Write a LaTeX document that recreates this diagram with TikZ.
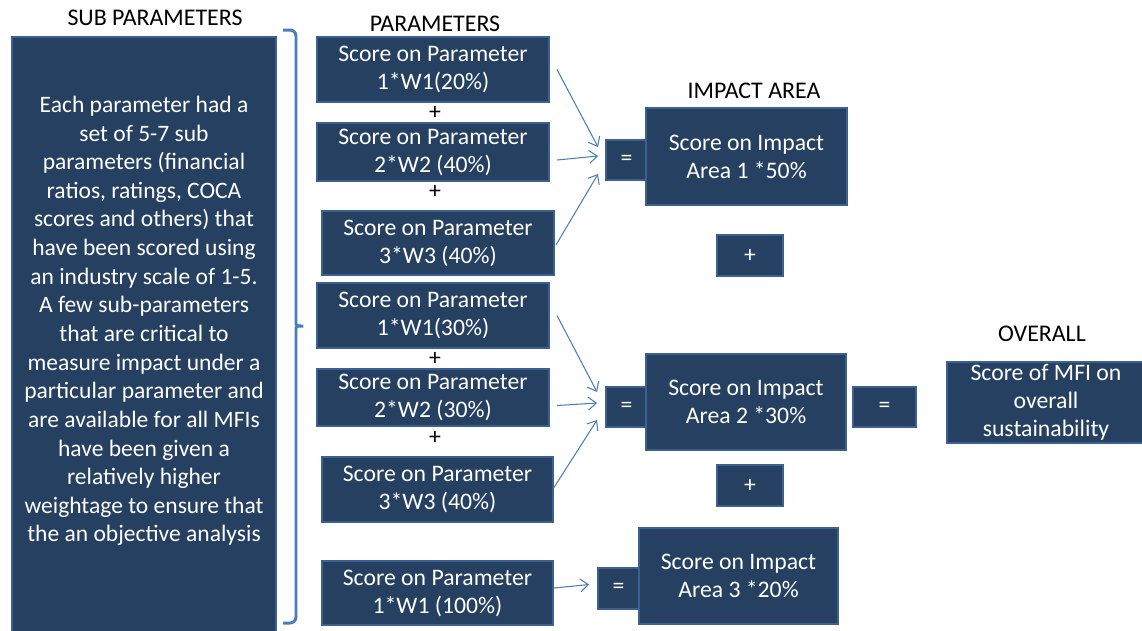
\documentclass[tikz,border=0pt]{standalone}
\usepackage{fontspec}
\setmainfont{Carlito}
\usetikzlibrary{arrows.meta,calc}

\definecolor{boxfill}{HTML}{254061}
\definecolor{boxline}{HTML}{3B6092}
\definecolor{linkblue}{HTML}{4A7EBB}

\tikzset{
  box/.style={draw=boxline, line width=1.1pt, fill=boxfill, text=white,
    align=center, inner sep=0pt, font=\fontsize{13.5}{15.9}\selectfont},
  sz/.style 2 args={minimum width=#1*0.02cm, minimum height=#2*0.02cm},
  head/.style={font=\fontsize{13.6}{15}\selectfont},
  plus/.style={font=\fontsize{13.5}{14}\selectfont, inner sep=0pt},
  link/.style={draw=linkblue, line width=0.6pt,
    -{Straight Barb[length=1.6mm,width=2.6mm]}}
}

\begin{document}
\begin{tikzpicture}[x=0.02cm, y=-0.02cm]
\path[use as bounding box, clip] (0,0) rectangle (1142,630);

\node[head] (subhead) at (155,18) {SUB PARAMETERS};
\node[head] (parhead) at (435,24) {PARAMETERS};
\node[head] (imphead) at (754,91) {IMPACT AREA};
\node[head] (allhead) at (1042,334) {OVERALL};

\node[box, sz={264}{613}] (sub) at (144,343.5) {};
\node[text=white, align=center, inner sep=0pt,
  font=\fontsize{13.4}{16.3}\selectfont] (subtext) at (144,321)
  {Each parameter had a\\ set of 5-7 sub\\ parameters (financial\\
   ratios, ratings, COCA\\ scores and others) that\\ have been scored using\\
   an industry scale of 1-5.\\ A few sub-parameters\\ that are critical to\\
   measure impact under a\\ particular parameter and\\ are available for all MFIs\\
   have been given a\\ relatively higher\\ weightage to ensure that\\
   the an objective analysis};
\draw[linkblue, line width=1.7pt, rounded corners=1.2mm]
  (283,30) -- (296,30) -- (296,318)
  .. controls (296,326) and (300,326) .. (307,326)
  .. controls (300,326) and (296,326) .. (296,334)
  -- (296,623) -- (283,623);

\node[box, sz={232}{65}] (p1) at (433,69.5) {Score on Parameter\\ 1*W1(20\%)};
\node[plus] (pl1) at (435,113) {+};
\node[box, sz={232}{58}] (p2) at (433,152) {Score on Parameter\\ 2*W2 (40\%)};
\node[plus] (pl2) at (435,192) {+};
\node[box, sz={232}{64}] (p3) at (438,243) {Score on Parameter\\ 3*W3 (40\%)};
\node[box, sz={232}{65}] (p4) at (433,315.5) {Score on Parameter\\ 1*W1(30\%)};
\node[plus] (pl3) at (435,359) {+};
\node[box, sz={232}{57}] (p5) at (433,397.5) {Score on Parameter\\ 2*W2 (30\%)};
\node[plus] (pl4) at (435,438) {+};
\node[box, sz={231}{65}] (p6) at (437.5,489.5) {Score on Parameter\\ 3*W3 (40\%)};
\node[box, sz={231}{64}] (p7) at (437.5,593) {Score on Parameter\\ 1*W1 (100\%)};

\node[box, sz={41}{40}] (e1) at (626.5,160) {=};
\node[box, sz={201}{97}] (i1) at (746.5,156.5) {Score on Impact\\ Area 1 *50\%};
\node[box, sz={66}{41}] (a1) at (750,255.5) {+};
\node[box, sz={41}{40}] (e2) at (626.5,407) {=};
\node[box, sz={200}{96}] (i2) at (746,402) {Score on Impact\\ Area 2 *30\%};
\node[box, sz={63}{40}] (e3) at (884.5,407) {=};
\node[box, sz={198}{81}] (all) at (1046,402.5) {Score of MFI on\\ overall\\ sustainability};
\node[box, sz={66}{41}] (a2) at (750,485.5) {+};
\node[box, sz={41}{41}] (e4) at (618.5,588.5) {=};
\node[box, sz={199}{96}] (i3) at (738.5,576) {Score on Impact\\ Area 3 *20\%};

\draw[link] ($(p1.east)+(7,0)$) -- ($(e1.west)+(-7,-13)$);
\draw[link] ($(p2.east)+(7,8)$) -- ($(e1.west)+(-7,-4)$);
\draw[link] ($(p3.east)+(1,2)$) -- ($(e1.west)+(-7,14)$);
\draw[link] ($(p4.east)+(7,0)$) -- ($(e2.west)+(-8,-15)$);
\draw[link] ($(p5.east)+(7,8)$) -- ($(e2.west)+(-8,-4)$);
\draw[link] ($(p6.east)+(0,-2)$) -- ($(e2.west)+(-8,13)$);
\draw[link] ($(p7.east)+(0,-5)$) -- ($(e4.west)+(-8,-4)$);
\end{tikzpicture}
\end{document}
